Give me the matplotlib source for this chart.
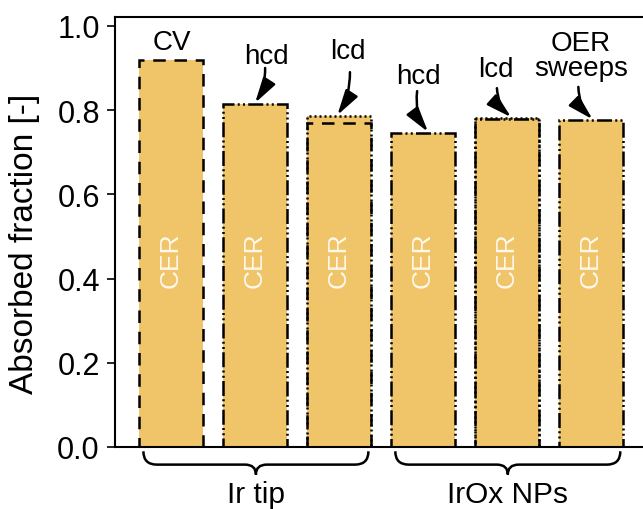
import numpy as np
import matplotlib
matplotlib.use("Agg")
from matplotlib import pyplot as plt
from matplotlib.path import Path
from matplotlib.patches import PathPatch

plt.rcParams['font.family'] = ['Liberation Sans', 'DejaVu Sans']

# bar heights (absorbed fraction)
positions = [0, 1, 2, 3, 4, 5]
fill_values = [0.92, 0.815, 0.786, 0.746, 0.781, 0.776]

# outlines per measurement type: position -> height
dashed_vals = {0: 0.92, 2: 0.770}
dotted_vals = {2: 0.786, 4: 0.781}
dashdotdot_vals = {1: 0.815, 3: 0.746, 4: 0.778, 5: 0.776}

bar_labels = ['CV', 'hcd', 'lcd', 'hcd', 'lcd', 'OER\nsweeps']
inner_label = 'CER'
groups = ['Ir tip', 'IrOx NPs']
group_spans = [(-0.33, 2.35), (2.67, 5.35)]

fill_color = '#F0C468'
width = 0.76

fig = plt.figure(figsize=(6.43, 5.10), dpi=100)
ax = fig.add_axes([0.179, 0.1216, 0.821, 0.8431])

ax.bar(positions, fill_values, width=width, color=fill_color, linewidth=0, zorder=2)

def outline(vals, ls):
    xs = list(vals.keys())
    hs = list(vals.values())
    ax.bar(xs, hs, width=width, fill=False, edgecolor='black',
           linewidth=1.8, linestyle=ls, zorder=3)

outline(dashed_vals, (0, (5, 3.5)))
outline(dotted_vals, (0, (0.8, 1.2)))
outline(dashdotdot_vals, (0, (6, 1.3, 0.8, 1.3, 0.8, 1.3)))

for x in positions:
    ax.text(x, 0.445, inner_label, rotation=90, color='#FFF8EC', fontsize=19,
            ha='center', va='center', zorder=4)

# top labels with arrows: text pos, arrow start, arrow tip, curvature
ax.text(0.01, 0.962, bar_labels[0], fontsize=20, ha='center', va='center')
arrows = [
    (1, (1.13, 0.929), (1.12, 0.900), (1.0, 0.817), -0.15),
    (2, (2.10, 0.940), (2.13, 0.890), (1.98, 0.788), -0.15),
    (3, (2.94, 0.880), (2.93, 0.845), (3.06, 0.748), 0.2),
    (4, (3.87, 0.898), (3.88, 0.852), (4.05, 0.783), 0.2),
    (5, (4.88, 0.929), (4.85, 0.855), (5.02, 0.778), 0.2),
]
for i, tpos, start, tip, rad in arrows:
    ax.text(tpos[0], tpos[1], bar_labels[i], fontsize=20, ha='center',
            va='center', linespacing=0.95)
    ax.annotate('', xy=tip, xytext=start,
                arrowprops=dict(arrowstyle='-|>,head_length=0.9,head_width=0.25',
                                connectionstyle='arc3,rad=%s' % rad,
                                color='black', lw=1.8, shrinkA=0, shrinkB=0,
                                mutation_scale=17), zorder=5)

# curly braces below the axis
trans = ax.get_xaxis_transform()
y_top, y_line, y_tip = -0.010, -0.041, -0.064
r = 0.16
rm = 0.13
for (x0, x1), name in zip(group_spans, groups):
    xm = (x0 + x1) / 2
    verts = [(x0, y_top), (x0, y_line), (x0 + r, y_line),
             (xm - rm, y_line),
             (xm, y_line), (xm, y_tip),
             (xm, y_line), (xm + rm, y_line),
             (x1 - r, y_line),
             (x1, y_line), (x1, y_top)]
    codes = [Path.MOVETO, Path.CURVE3, Path.CURVE3,
             Path.LINETO,
             Path.CURVE3, Path.CURVE3,
             Path.CURVE3, Path.CURVE3,
             Path.LINETO,
             Path.CURVE3, Path.CURVE3]
    ax.add_patch(PathPatch(Path(verts, codes), fill=False, lw=1.8,
                           edgecolor='black', transform=trans, clip_on=False))
    ax.text(xm, -0.109, name, fontsize=21.5, ha='center', va='center',
            transform=trans)

ax.set_xlim(-0.667, 5.62)
ax.set_ylim(0, 1.021)
ax.set_yticks([0.0, 0.2, 0.4, 0.6, 0.8, 1.0])
ax.set_yticklabels(['0.0', '0.2', '0.4', '0.6', '0.8', '1.0'])
ax.set_xticks([])
ax.tick_params(axis='y', labelsize=22, width=1.2, length=6, direction='out', pad=5)
ax.set_ylabel('Absorbed fraction [-]', fontsize=24)
ax.yaxis.set_label_coords(-0.142, 0.474)
ax.spines['right'].set_visible(False)
for s in ['left', 'bottom', 'top']:
    ax.spines[s].set_linewidth(1.5)

fig.savefig('out.png', dpi=100)
